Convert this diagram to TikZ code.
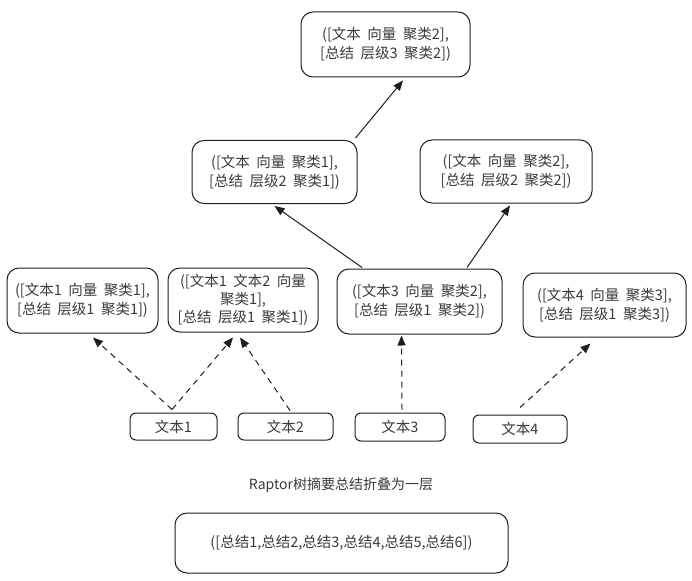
\documentclass[tikz,border=0pt]{standalone}
\usepackage{fontspec}
\setmainfont{Noto Sans CJK SC}
\usetikzlibrary{arrows.meta}
\definecolor{ink}{HTML}{1E1E1E}
\definecolor{txt}{HTML}{3A3A3A}
\begin{document}
\begin{tikzpicture}[x=1pt,y=-1pt,
  box/.style={draw=ink, line width=1pt, rounded corners=12pt, align=center,
    font=\fontsize{14.5}{19}\selectfont, text=txt, inner sep=0pt},
  arr/.style={draw=ink, line width=1pt, -{Triangle[length=10pt,width=8pt]}},
  darr/.style={arr, dash pattern=on 6pt off 5pt},
  captext/.style={font=\fontsize{14}{16}\selectfont, text=txt}]
\useasboundingbox (0,0) rectangle (692,580);
% level 3
\node[box, minimum width=169pt, minimum height=65pt] (top) at (385.5,44.5)
  {([文本 \ 向量 \ 聚类2],\\\relax{[}总结 \ 层级3 \ 聚类2])};
% level 2
\node[box, minimum width=165pt, minimum height=63pt] (L2a) at (274.5,172)
  {([文本 \ 向量 \ 聚类1],\\\relax{[}总结 \ 层级2 \ 聚类1])};
\node[box, minimum width=172pt, minimum height=63pt] (L2b) at (506,171.5)
  {([文本 \ 向量 \ 聚类2],\\\relax{[}总结 \ 层级2 \ 聚类2])};
% level 1
\node[box, minimum width=151pt, minimum height=65pt] (b1) at (82.5,300.5)
  {([文本1 \ 向量 \ 聚类1],\\\relax{[}总结 \ 层级1 \ 聚类1])};
\node[box, minimum width=150pt, minimum height=64pt, font=\fontsize{14.5}{18}\selectfont] (b2) at (243,300)
  {([文本1 \ 文本2 \ 向量\\聚类1],\\\relax{[}总结 \ 层级1 \ 聚类1])};
\node[box, minimum width=165pt, minimum height=65pt] (b3) at (419.5,301.5)
  {([文本3 \ 向量 \ 聚类2],\\\relax{[}总结 \ 层级1 \ 聚类2])};
\node[box, minimum width=163pt, minimum height=64pt] (b4) at (604.5,305)
  {([文本4 \ 向量 \ 聚类3],\\\relax{[}总结 \ 层级1 \ 聚类3])};
% texts
\node[box, rounded corners=6pt, minimum width=87pt, minimum height=27pt] (t1) at (173.5,426.5) {文本1};
\node[box, rounded corners=6pt, minimum width=95pt, minimum height=27pt] (t2) at (285.5,426.5) {文本2};
\node[box, rounded corners=6pt, minimum width=90pt, minimum height=28pt] (t3) at (400,427) {文本3};
\node[box, rounded corners=6pt, minimum width=94pt, minimum height=28pt] (t4) at (520,429) {文本4};
% caption and collapsed layer
\node[captext] (caption) at (341,485) {Raptor树摘要总结折叠为一层};
\node[box, minimum width=333pt, minimum height=60pt] (flat) at (341.5,543)
  {([总结1,总结2,总结3,总结4,总结5,总结6])};
% solid arrows
\draw[arr] ([xshift=-2pt,yshift=2pt]L2a.north east) -- ([xshift=17.5pt,yshift=-3pt]top.south);
\draw[arr] ([xshift=-57.5pt,yshift=1pt]b3.north) -- ([yshift=-2pt]L2a.south);
\draw[arr] ([xshift=47.5pt,yshift=1pt]b3.north) -- ([xshift=4pt,yshift=-2pt]L2b.south);
% dashed arrows
\draw[darr] ([xshift=-1.5pt,yshift=3pt]t1.north) -- ([xshift=10.5pt,yshift=-4pt]b1.south);
\draw[darr] ([xshift=-1.5pt,yshift=3pt]t1.north) -- ([xshift=-10pt,yshift=-5pt]b2.south);
\draw[darr] ([xshift=4.5pt,yshift=2pt]t2.north) -- ([xshift=-3pt,yshift=-5pt]b2.south);
\draw[darr] ([xshift=2pt,yshift=3pt]t3.north) -- ([xshift=-18pt,yshift=-1pt]b3.south);
\draw[darr] ([yshift=7pt]t4.north) -- ([xshift=-14pt,yshift=-6pt]b4.south);
\end{tikzpicture}
\end{document}
